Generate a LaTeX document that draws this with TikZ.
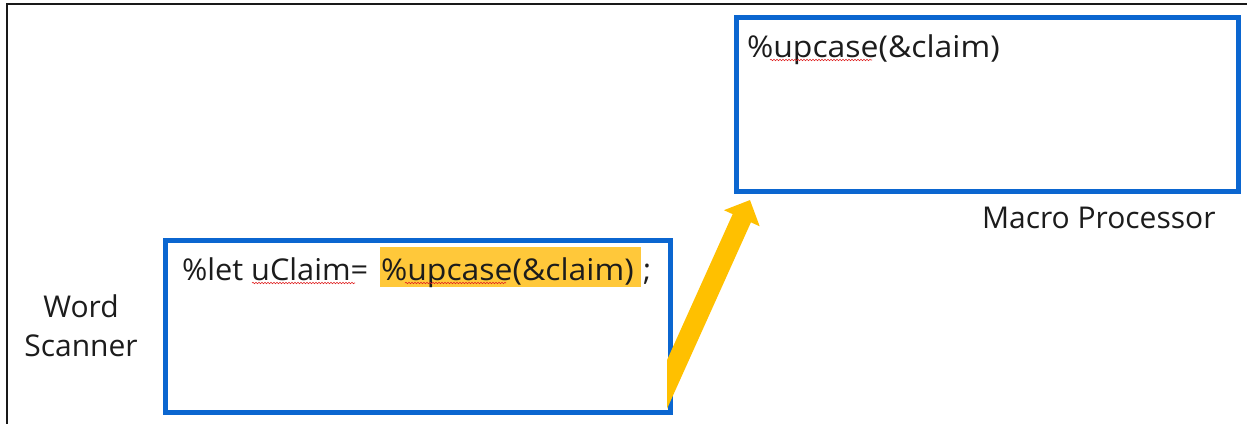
\documentclass[tikz,border=0pt]{standalone}
\usepackage{fontspec}
\setmainfont{Open Sans}
\usetikzlibrary{arrows.meta,decorations.pathmorphing}
\definecolor{boxblue}{HTML}{0B66D0}
\definecolor{arrowyellow}{HTML}{FFC000}
\definecolor{hilite}{HTML}{FFC83A}
\definecolor{txt}{HTML}{1C1C1C}
\definecolor{spell}{HTML}{E02020}
\newcommand{\widetxt}[2][1.065]{\scalebox{#1}[1]{#2}}
\tikzset{
  panel/.style={draw=boxblue,line width=5pt,line join=miter},
  lbl/.style={inner sep=0pt,outer sep=0pt,text=txt,font=\fontsize{30}{39.3}\selectfont},
  frameline/.style={draw=black!90,line width=2.2pt},
  squiggle/.style={draw=spell,line width=0.6pt,decorate,decoration={snake,amplitude=0.7pt,segment length=3pt}},
  bigarrow/.style={draw=arrowyellow,line width=20pt,-{Triangle[width=38pt,length=20pt]}}
}
\begin{document}
\begin{tikzpicture}[x=1pt,y=-1pt]
\useasboundingbox (0,0) rectangle (1247,424);
\fill[white] (0,0) rectangle (1247,424);
% outer frame
\draw[frameline] (6,4) -- (1247,4);
\draw[frameline] (7,3) -- (7,424);
% boxes
\draw[panel] (165,240) rectangle (670,412);
\draw[panel] (736,17.5) rectangle (1238,191);
\coordinate (scanBox) at (670,384);
\coordinate (procBox) at (750,200);
% arrow from Word Scanner box to Macro Processor box
\begin{scope}
\clip (667,0) rectangle (1247,424);
\coordinate (tail) at (646.5,430);
\draw[bigarrow] (tail) -- (procBox);
\end{scope}
% highlight
\fill[hilite] (380,247) rectangle (641,287);
% texts
\node[lbl,anchor=base west] (letA) at (182,280) {\widetxt[1.025]{\%let uClaim=}};
\node[lbl,anchor=base west] (letB) at (381,280) {\widetxt{\%upcase(\&claim)}};
\node[lbl,anchor=base west] (letC) at (643,280) {;};
\node[lbl,anchor=base west] (mp) at (747,57) {\widetxt{\%upcase(\&claim)}};
\node[lbl,anchor=base west] (mpl) at (982,228) {Macro Processor};
\node[lbl,align=center] (ws) at (81,325.5) {Word\\Scanner};
% spell-check squiggles
\draw[squiggle] (252,283) -- (355,283);
\draw[squiggle] (405,283) -- (506,283);
\draw[squiggle] (770,60) -- (872,60);
\end{tikzpicture}
\end{document}
